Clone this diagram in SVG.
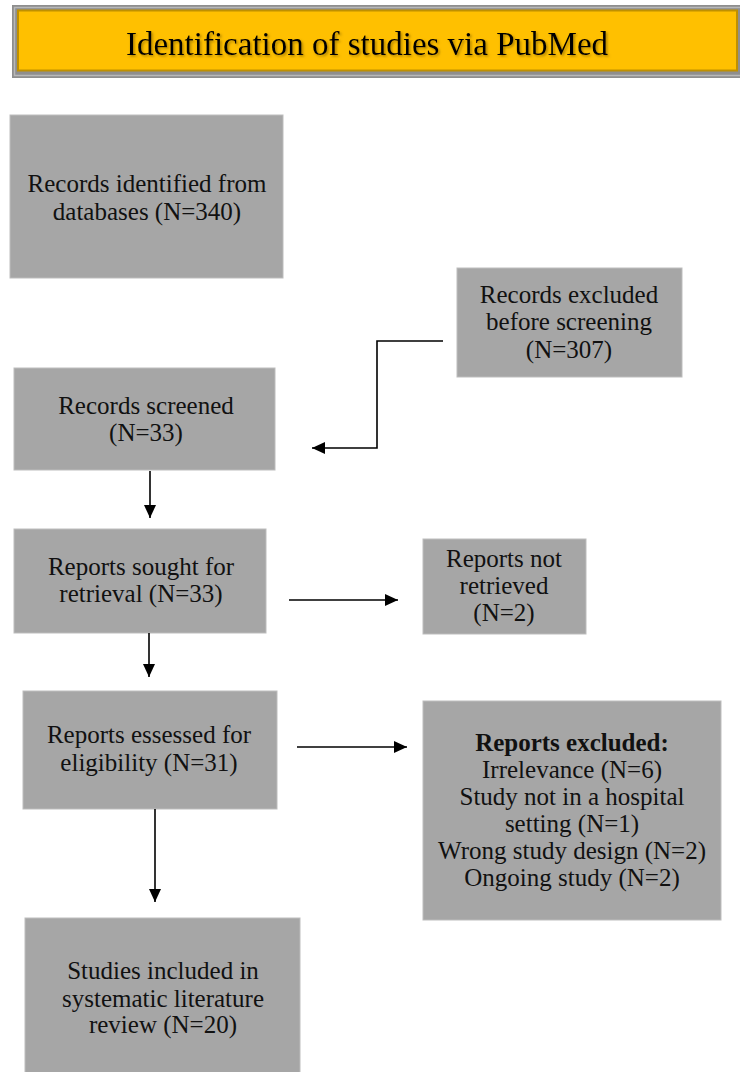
<svg xmlns="http://www.w3.org/2000/svg" width="740" height="1072" viewBox="0 0 740 1072">
<style>
.box{fill:#a6a6a6;stroke:#bdbdbd;stroke-width:1}
.t{font-family:"Liberation Serif","Times New Roman",serif;font-size:25px;fill:#111;text-anchor:middle}
.b{font-weight:bold}
.title{font-family:"Liberation Serif","Times New Roman",serif;font-size:33px;fill:#000;text-anchor:middle}
.c{fill:none;stroke:#000;stroke-width:1.6}
</style>
<defs>
<marker id="ah" markerUnits="userSpaceOnUse" viewBox="0 0 13 12" refX="13" refY="6" markerWidth="13" markerHeight="12" orient="auto">
<path d="M0,0 L13,6 L0,12 z" fill="#000"/>
</marker>
<filter id="sh" x="-5%" y="-20%" width="110%" height="140%">
<feDropShadow dx="1.5" dy="1.5" stdDeviation="1" flood-color="#7a5a00" flood-opacity="0.6"/>
</filter>
</defs>
<g id="title">
<rect x="12" y="5" width="740" height="73" fill="#8e8e8e"/>
<rect x="14.5" y="7.5" width="740" height="68" fill="none" stroke="#b8b8b8" stroke-width="1.5"/>
<rect x="18" y="10.5" width="719" height="60" fill="#ffc000" stroke="#bf9000" stroke-width="2"/>
<text class="title" x="367" y="55" filter="url(#sh)">Identification of studies via PubMed</text>
</g>
<g id="identified">
<rect class="box" x="10" y="115" width="273" height="163"/>
<text class="t" x="147" y="192">Records identified from</text>
<text class="t" x="147" y="220">databases (N=340)</text>
</g>
<g id="excluded-before">
<rect class="box" x="457" y="268" width="225" height="109"/>
<text class="t" x="569" y="303">Records excluded</text>
<text class="t" x="569" y="330">before screening</text>
<text class="t" x="569" y="358">(N=307)</text>
</g>
<g id="screened">
<rect class="box" x="14" y="368" width="261" height="102"/>
<text class="t" x="146" y="414">Records screened</text>
<text class="t" x="146" y="441">(N=33)</text>
</g>
<g id="sought">
<rect class="box" x="14" y="529" width="252" height="104"/>
<text class="t" x="141" y="575">Reports sought for</text>
<text class="t" x="141" y="602">retrieval (N=33)</text>
</g>
<g id="not-retrieved">
<rect class="box" x="423" y="539" width="163" height="95"/>
<text class="t" x="504" y="567">Reports not</text>
<text class="t" x="504" y="594">retrieved</text>
<text class="t" x="504" y="621">(N=2)</text>
</g>
<g id="assessed">
<rect class="box" x="23" y="691" width="254" height="118"/>
<text class="t" x="149" y="743">Reports essessed for</text>
<text class="t" x="149" y="771">eligibility (N=31)</text>
</g>
<g id="reports-excluded">
<rect class="box" x="423" y="701" width="298" height="219"/>
<text class="t b" x="572" y="751">Reports excluded:</text>
<text class="t" x="572" y="778">Irrelevance (N=6)</text>
<text class="t" x="572" y="805">Study not in a hospital</text>
<text class="t" x="572" y="832">setting (N=1)</text>
<text class="t" x="572" y="859">Wrong study design (N=2)</text>
<text class="t" x="572" y="886">Ongoing study (N=2)</text>
</g>
<g id="included">
<rect class="box" x="25" y="918" width="275" height="160"/>
<text class="t" x="163" y="979">Studies included in</text>
<text class="t" x="163" y="1007">systematic literature</text>
<text class="t" x="163" y="1033">review (N=20)</text>
</g>
<g id="connectors">
<path class="c" d="M443,341 H377 V448 H312" marker-end="url(#ah)"/>
<path class="c" d="M150,471 V518" marker-end="url(#ah)"/>
<path class="c" d="M289,600 H398" marker-end="url(#ah)"/>
<path class="c" d="M149,633 V677" marker-end="url(#ah)"/>
<path class="c" d="M297,747 H407" marker-end="url(#ah)"/>
<path class="c" d="M155,809 V902" marker-end="url(#ah)"/>
</g>
</svg>
